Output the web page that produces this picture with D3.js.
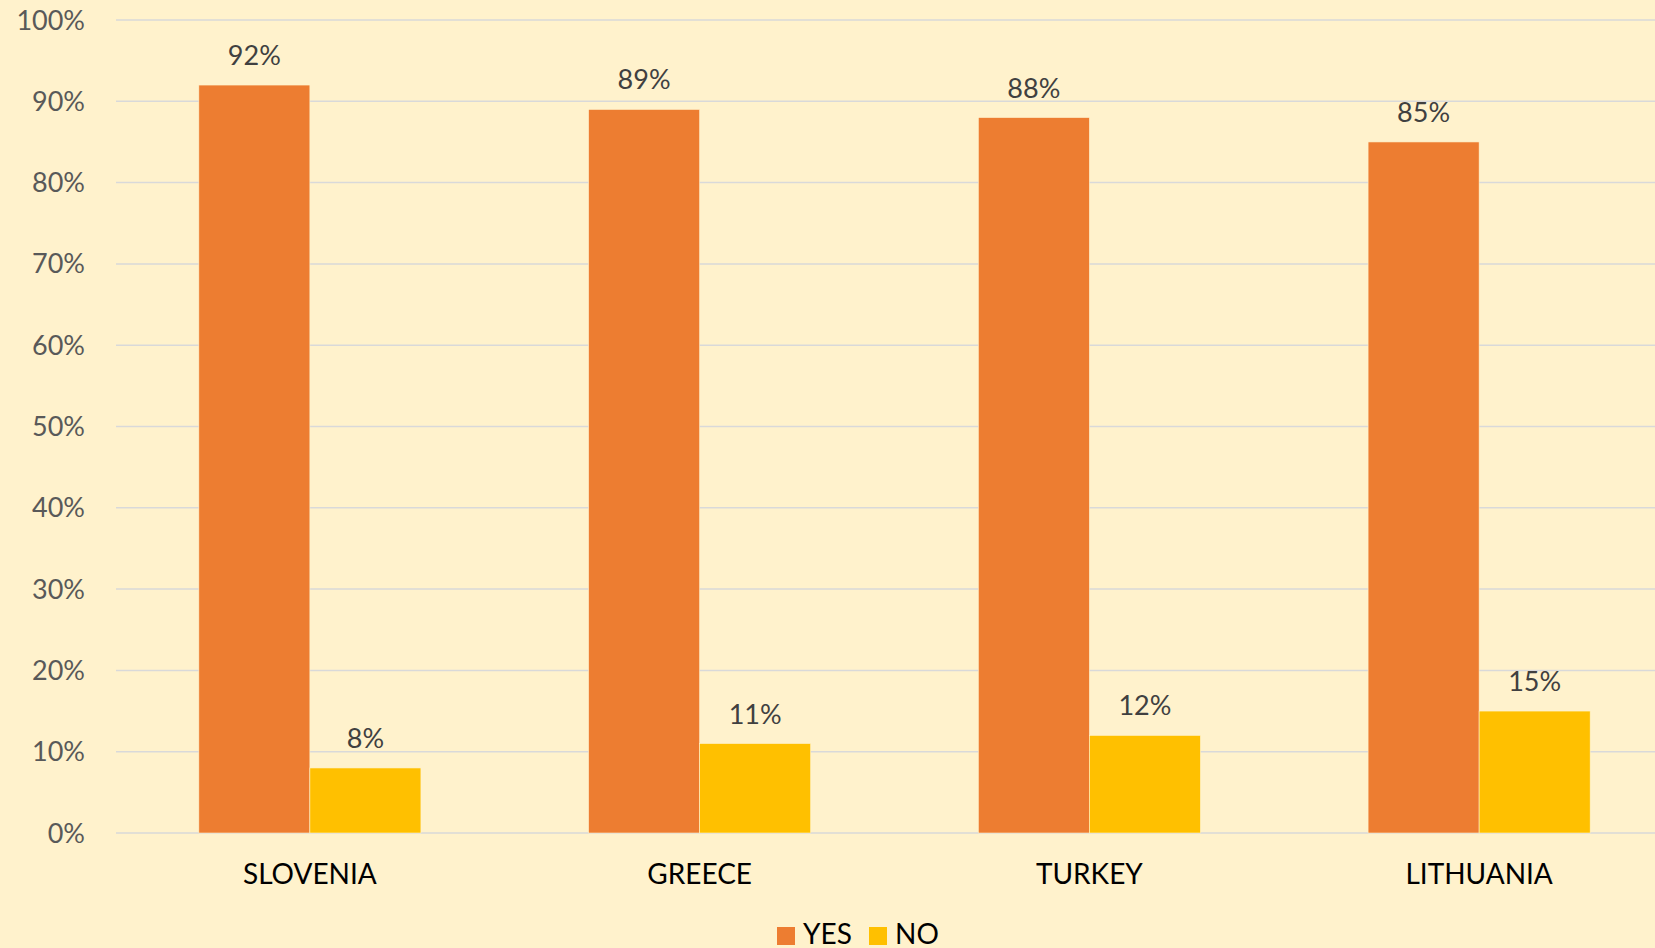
<!DOCTYPE html>
<html>
<head>
<meta charset="utf-8">
<script src="https://cdn.jsdelivr.net/npm/d3@7"></script>
<style>
  body { margin: 0; background: #fff2cc; }
  svg { display: block; }
</style>
</head>
<body>
<svg id="chart"></svg>
<script>
let width = 1655;
let height = 948;
let fontFamily = "Lato, 'Open Sans', sans-serif";

// chart values
let countries = ["SLOVENIA", "GREECE", "TURKEY", "LITHUANIA"];
let seriesNames = ["YES", "NO"];
let yesValues = [92, 89, 88, 85];
let noValues = [8, 11, 12, 15];
let yTicks = [0, 10, 20, 30, 40, 50, 60, 70, 80, 90, 100];
let colors = ["#ed7d31", "#ffc000"];

let svg = d3.select("#chart")
    .attr("width", width)
    .attr("height", height);

svg.append("rect")
    .attr("width", width)
    .attr("height", height)
    .attr("fill", "#fff2cc");

let x = d3.scaleBand()
    .domain(countries)
    .range([115, 1674])
    .paddingInner(0)
    .paddingOuter(0);

let xSub = d3.scaleBand()
    .domain(seriesNames)
    .range([0, x.bandwidth()])
    .paddingInner(0)
    .paddingOuter(0.755);

let y = d3.scaleLinear()
    .domain([0, 100])
    .range([833, 20]);

// gridlines
svg.append("g")
    .selectAll("line")
    .data(yTicks)
    .join("line")
    .attr("x1", 116)
    .attr("x2", width)
    .attr("y1", d => y(d))
    .attr("y2", d => y(d))
    .attr("stroke", "#d9d9d9")
    .attr("stroke-width", 1.5);

// y tick labels
svg.append("g")
    .selectAll("text")
    .data(yTicks)
    .join("text")
    .attr("x", 85)
    .attr("y", d => y(d) + 9.5)
    .attr("text-anchor", "end")
    .text(d => d + "%")
    .style("font-family", fontFamily)
    .style("font-size", "27px")
    .style("fill", "#595959");

let rows = countries.map((c, i) => ({country: c, values: [yesValues[i], noValues[i]]}));

let groups = svg.append("g")
    .selectAll("g")
    .data(rows)
    .join("g")
    .attr("transform", d => "translate(" + x(d.country) + ",0)");

groups.selectAll("rect")
    .data(d => d.values.map((v, j) => ({name: seriesNames[j], value: v, color: colors[j]})))
    .join("rect")
    .attr("x", d => xSub(d.name))
    .attr("y", d => y(d.value))
    .attr("width", xSub.bandwidth())
    .attr("height", d => y(0) - y(d.value))
    .attr("fill", d => d.color)
    .attr("stroke", "#fff2cc")
    .attr("stroke-width", 0.6);

groups.selectAll("text")
    .data(d => d.values.map((v, j) => ({name: seriesNames[j], value: v})))
    .join("text")
    .attr("x", d => xSub(d.name) + xSub.bandwidth() / 2)
    .attr("y", d => y(d.value) - 20)
    .attr("text-anchor", "middle")
    .text(d => d.value + "%")
    .style("font-family", fontFamily)
    .style("font-size", "27px")
    .style("fill", "#404040");

// category labels
svg.append("g")
    .selectAll("text")
    .data(countries)
    .join("text")
    .attr("x", d => x(d) + x.bandwidth() / 2)
    .attr("y", 884)
    .attr("text-anchor", "middle")
    .text(d => d)
    .style("font-family", fontFamily)
    .style("font-size", "28px")
    .style("fill", "#000000");

// legend
let legendX = [777, 869];
let legend = svg.append("g")
    .selectAll("g")
    .data(seriesNames)
    .join("g")
    .attr("transform", (d, i) => "translate(" + legendX[i] + ",927)");
legend.append("rect")
    .attr("width", 18)
    .attr("height", 18)
    .attr("fill", (d, i) => colors[i]);
legend.append("text")
    .attr("x", 26)
    .attr("y", 17)
    .text(d => d)
    .style("font-family", fontFamily)
    .style("font-size", "28px")
    .style("fill", "#000000");
</script>
</body>
</html>
